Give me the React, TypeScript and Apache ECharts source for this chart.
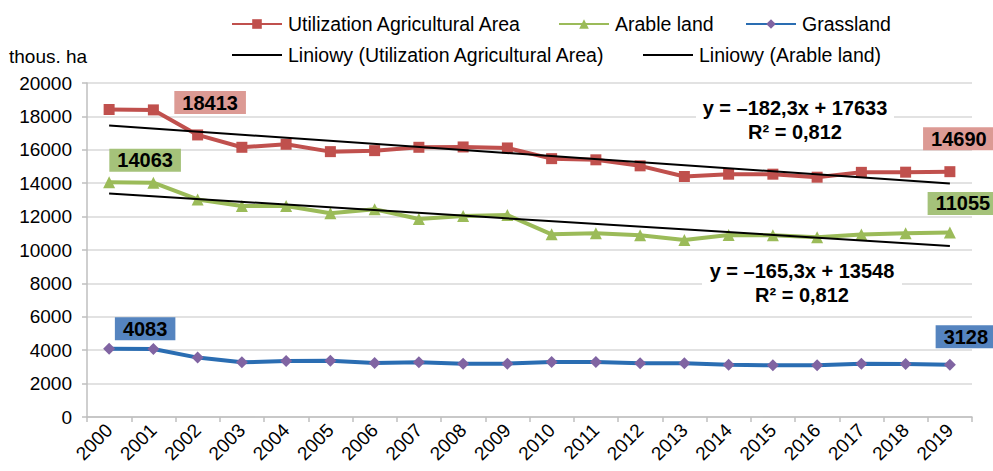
import React, { useEffect, useRef } from "react";
import * as echarts from "echarts";

const years = ["2000","2001","2002","2003","2004","2005","2006","2007","2008","2009","2010","2011","2012","2013","2014","2015","2016","2017","2018","2019"];
const uaa = [18413,18390,16890,16150,16330,15890,15950,16150,16170,16110,15470,15400,15040,14400,14540,14540,14360,14650,14660,14690];
const arable = [14063,14030,13030,12630,12640,12200,12440,11860,12040,12090,10940,11000,10880,10600,10900,10880,10760,10930,11000,11055];
const grass = [4083,4075,3557,3275,3355,3375,3235,3275,3195,3195,3295,3295,3215,3215,3135,3095,3095,3195,3175,3128];
// trend line end values (from the fitted equations shown on the chart)
const uaaTrendEnds = [17451, 13987];
const arableTrendEnds = [13383, 10242];
const yTicks = { min: 0, max: 20000, interval: 2000 };
const seriesNames = ["Utilization Agricultural Area", "Arable land", "Grassland", "Liniowy (Utilization Agricultural Area)", "Liniowy (Arable land)"];
const eqUaa = ["y = –182,3x + 17633", "R² = 0,812"];
const eqArable = ["y = –165,3x + 13548", "R² = 0,812"];

const FONT = "Liberation Sans, Arial, sans-serif";
const RED = "#c0504d";
const GREEN = "#9bbb59";
const BLUE = "#2a6db2";
const PURPLE = "#8064a2";

function withLabels(values: number[], first: any, last: any) {
  return values.map((v, i) => {
    if (i === 0) return { value: v, label: first };
    if (i === values.length - 1) return { value: v, label: last };
    return v;
  });
}

function boxLabel(bg: string, offset: number[]) {
  return {
    show: true,
    position: "inside",
    offset,
    backgroundColor: bg,
    padding: [2, 8, 1, 8],
    color: "#000",
    fontWeight: "bold",
    fontSize: 20,
    fontFamily: FONT,
    formatter: "{c}",
  };
}

export default function App() {
  const ref = useRef<HTMLDivElement>(null);
  useEffect(() => {
    if (!ref.current) return;
    const chart = echarts.init(ref.current, undefined, { renderer: "svg" });
    const last = years.length - 1;
    const legendBase = {
      itemWidth: 50,
      itemHeight: 12,
      itemGap: 0,
      textStyle: { fontSize: 19.5, fontFamily: FONT, color: "#000", padding: [0, 0, 0, 1] },
    };
    const eqGroup = (lines: string[], cx: number, cy: number, rw: number) => ({
      type: "group",
      children: [
        { type: "rect", shape: { x: cx - rw / 2, y: cy - 24, width: rw, height: 48 }, style: { fill: "#fff" }, z: 5 },
        { type: "text", x: cx, y: cy - 12, z: 6, style: { text: lines[0], align: "center", verticalAlign: "middle", fontSize: 20, fontWeight: "bold", fontFamily: FONT, fill: "#000" } },
        { type: "text", x: cx, y: cy + 12, z: 6, style: { text: lines[1], align: "center", verticalAlign: "middle", fontSize: 20, fontWeight: "bold", fontFamily: FONT, fill: "#000" } },
      ],
    });
    chart.setOption({
      animation: false,
      backgroundColor: "#fff",
      grid: { left: 87, right: 21, top: 83, bottom: 54, containLabel: false },
      legend: [
        { ...legendBase, left: 226, top: 9, data: [seriesNames[0]] },
        { ...legendBase, left: 553, top: 9, data: [seriesNames[1]] },
        { ...legendBase, left: 740, top: 9, data: [seriesNames[2]] },
        { ...legendBase, left: 226, top: 40, itemStyle: { opacity: 0 }, data: [seriesNames[3]] },
        { ...legendBase, left: 637, top: 40, itemStyle: { opacity: 0 }, data: [seriesNames[4]] },
      ],
      xAxis: {
        type: "category",
        data: years,
        boundaryGap: true,
        axisLine: { lineStyle: { color: "#bfbfbf", width: 1.5 } },
        axisTick: { show: true, length: 5, interval: 0, lineStyle: { color: "#bfbfbf", width: 1.5 } },
        axisLabel: { rotate: 45, interval: 0, fontSize: 19, fontFamily: FONT, color: "#000", margin: 10 },
        splitLine: { show: false },
      },
      yAxis: {
        type: "value",
        min: yTicks.min,
        max: yTicks.max,
        interval: yTicks.interval,
        axisLine: { show: true, lineStyle: { color: "#bfbfbf", width: 1.5 } },
        axisTick: { show: true, length: 5, lineStyle: { color: "#bfbfbf", width: 1.5 } },
        axisLabel: { fontSize: 19, fontFamily: FONT, color: "#000", margin: 15, formatter: (v: number) => String(v) },
        splitLine: { show: true, lineStyle: { color: "#d9d9d9", width: 1.5 } },
      },
      graphic: [
        { type: "text", left: 9, top: 47, style: { text: "thous. ha", fontSize: 19, fontFamily: FONT, fill: "#000" } },
        eqGroup(eqUaa, 795, 120, 198),
        eqGroup(eqArable, 802, 283, 200),
      ],
      series: [
        {
          name: seriesNames[0],
          type: "line",
          data: withLabels(uaa, boxLabel("#dc9a94", [101, -7]), boxLabel("#dc9a94", [9, -33])),
          symbol: "rect",
          symbolSize: 11,
          lineStyle: { color: RED, width: 4 },
          itemStyle: { color: RED },
          z: 3,
        },
        {
          name: seriesNames[1],
          type: "line",
          data: withLabels(arable, boxLabel("#a5c27a", [36, -22]), boxLabel("#a5c27a", [13, -29])),
          symbol: "triangle",
          symbolSize: 12,
          lineStyle: { color: GREEN, width: 4 },
          itemStyle: { color: GREEN },
          z: 3,
        },
        {
          name: seriesNames[2],
          type: "line",
          data: withLabels(grass, boxLabel("#5584bf", [36, -20]), boxLabel("#5584bf", [16, -28])),
          symbol: "diamond",
          symbolSize: 12,
          lineStyle: { color: BLUE, width: 4 },
          itemStyle: { color: PURPLE },
          z: 3,
        },
        {
          name: seriesNames[3],
          type: "line",
          data: [[0, uaaTrendEnds[0]], [last, uaaTrendEnds[1]]],
          symbol: "none",
          lineStyle: { color: "#000", width: 2 },
          itemStyle: { color: "#000" },
          z: 4,
        },
        {
          name: seriesNames[4],
          type: "line",
          data: [[0, arableTrendEnds[0]], [last, arableTrendEnds[1]]],
          symbol: "none",
          lineStyle: { color: "#000", width: 2 },
          itemStyle: { color: "#000" },
          z: 4,
        },
      ],
    });
    return () => chart.dispose();
  }, []);
  return <div ref={ref} style={{ position: "absolute", left: 0, top: 0, width: 993, height: 471 }} />;
}
